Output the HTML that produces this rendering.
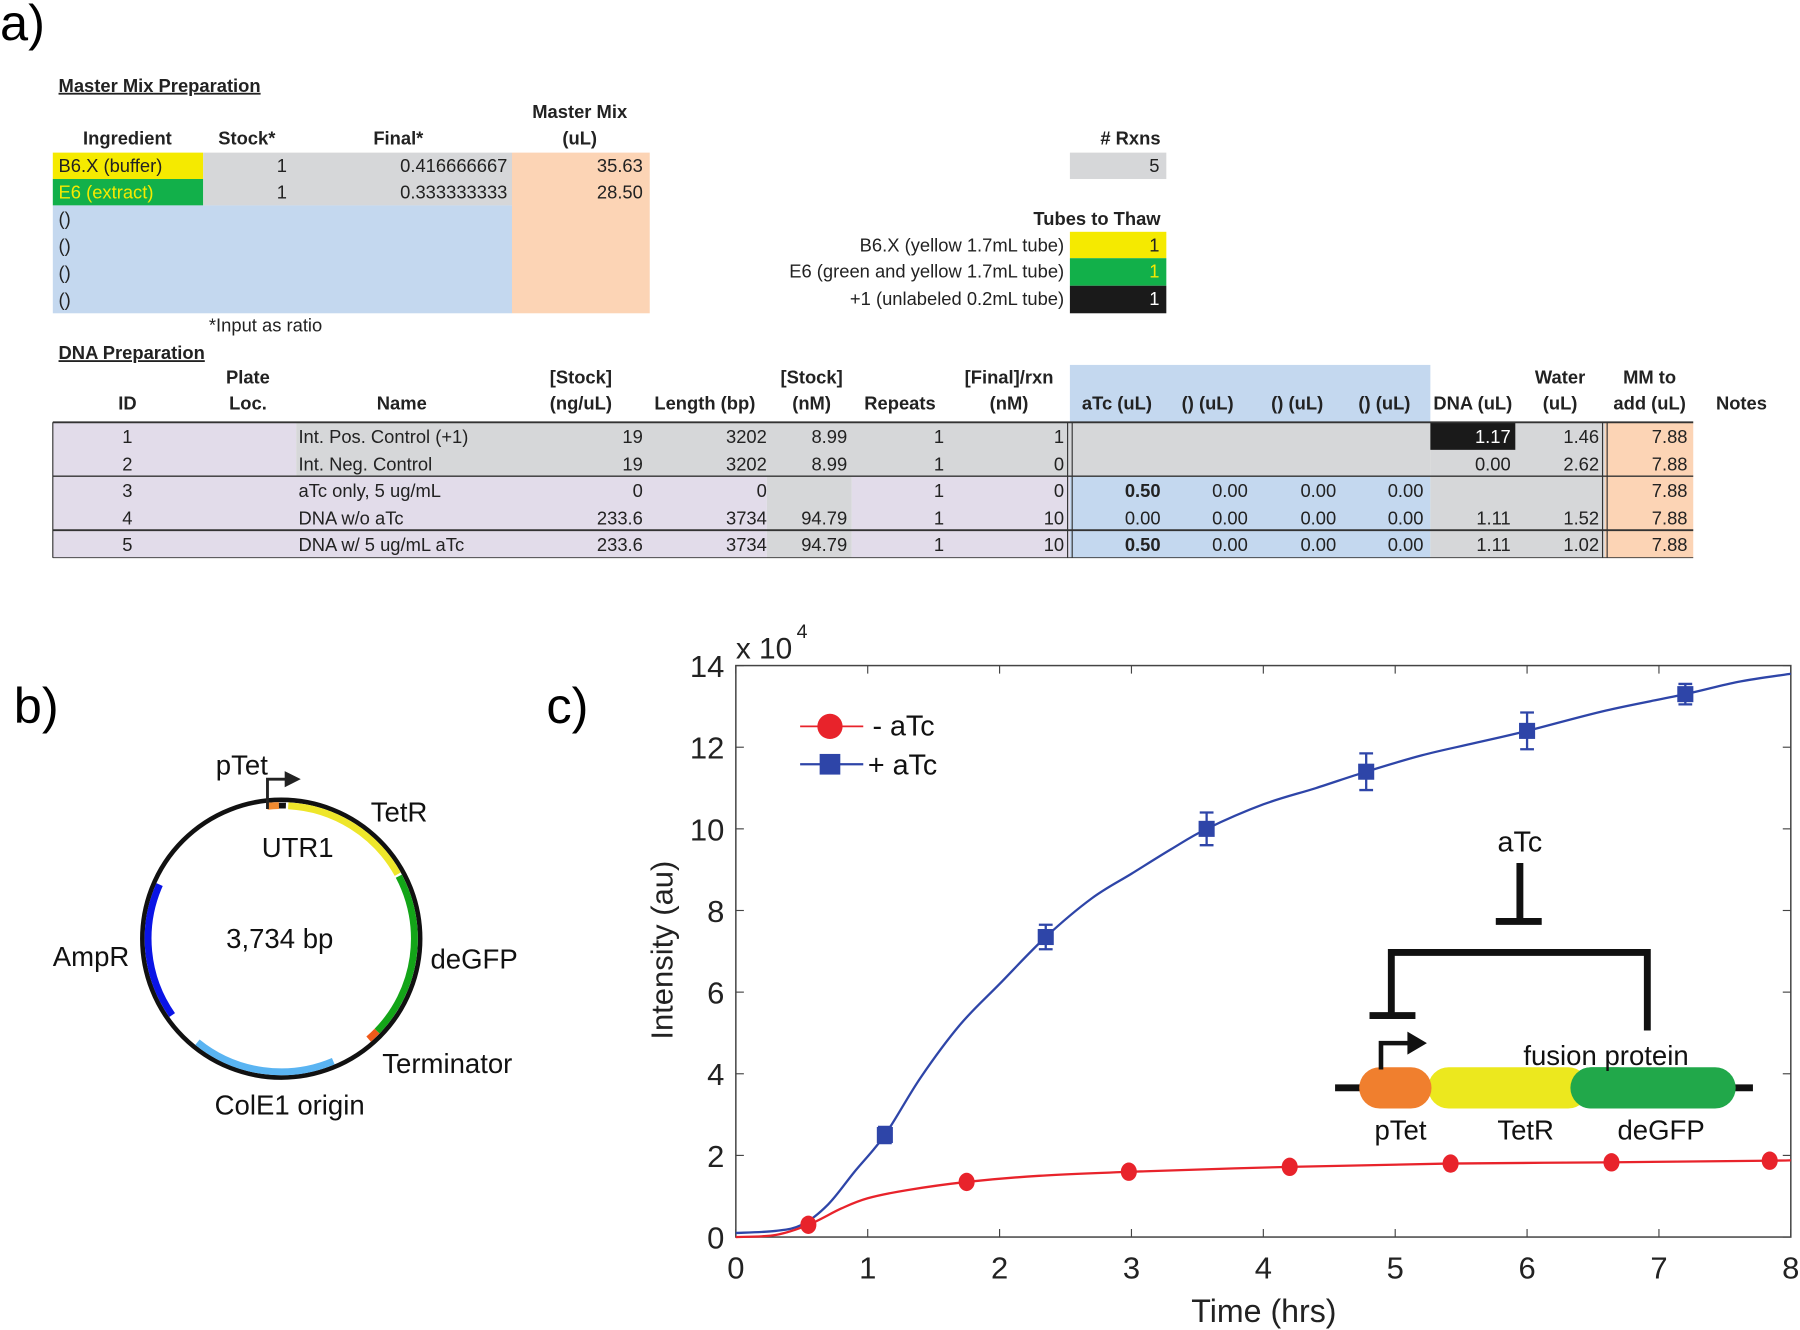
<!DOCTYPE html>
<html><head><meta charset="utf-8"><style>
html,body{margin:0;padding:0;background:#fff;width:1800px;height:1330px;overflow:hidden}
svg{display:block}
text{font-family:"Liberation Sans",sans-serif}
.t{font-size:16px}
</style></head><body>
<svg id="s" width="1800" height="1330" viewBox="0 0 1568 1159" preserveAspectRatio="none" xmlns="http://www.w3.org/2000/svg">
<text x="0" y="35" font-size="44">a)</text>
<text x="12" y="630" font-size="44">b)</text>
<text x="476" y="630" font-size="44">c)</text>
<g id="tbl"></g>
<g id="plasmid"></g>
<g id="chart"></g>
</svg>
<script>
const NS="http://www.w3.org/2000/svg";
function mk(parent,tag,attrs,txt){const e=document.createElementNS(NS,tag);for(const k in attrs)e.setAttribute(k,attrs[k]);if(txt!==undefined)e.textContent=txt;parent.appendChild(e);return e;}
const T=document.getElementById('tbl');
function rect(x,y,w,h,f,name){const r=mk(T,'rect',{x:x,y:y,width:w,height:h,fill:f});


return r;}
function txt(x,y,s,anchor,name,extra){const t=mk(T,'text',Object.assign({x:x,y:y,'text-anchor':anchor,'class':'t',fill:'#222'},extra||{}),s);


return t;}
// Master mix
rect(46,133,131,23,'#f5ea00','buffer-cell');
rect(46,156,131,23,'#12b04a','extract-cell');
rect(177,133,269,46,'#d6d7d9','stock-final-cells');
rect(46,179,400,94,'#c4d8ef','empty-ingredient-cells');
rect(446,133,120,140,'#fcd4b5','master-mix-cells');
txt(51,80,'Master Mix Preparation','start','master-mix-heading',{'text-decoration':'underline','font-weight':'bold'});
txt(505,103,'Master Mix','middle','mm-header',{'font-weight':'bold'});
txt(505,126,'(uL)','middle','mm-header-unit',{'font-weight':'bold'});
txt(111,126,'Ingredient','middle','ingredient-header',{'font-weight':'bold'});
txt(215,126,'Stock*','middle','stock-header',{'font-weight':'bold'});
txt(347,126,'Final*','middle','final-header',{'font-weight':'bold'});
txt(51,150,'B6.X (buffer)','start','buffer-label');
txt(51,173,'E6 (extract)','start','extract-label',{fill:'#f5ea00'});
txt(250,150,'1','end','stock-buffer');txt(250,173,'1','end','stock-extract');
txt(442,150,'0.416666667','end','final-buffer');txt(442,173,'0.333333333','end','final-extract');
txt(560,150,'35.63','end','mm-buffer');txt(560,173,'28.50','end','mm-extract');
for(let i=0;i<4;i++){txt(51,196+i*23.5,'()','start','empty-ingredient');}
txt(182,289,'*Input as ratio','start','ratio-note',{'font-size':'11'});
rect(932,133,84,23,'#d6d7d9','rxns-cell');
txt(1011,126,'# Rxns','end','rxns-header',{'font-weight':'bold'});
txt(1010,150,'5','end','rxns-value');
txt(1011,196,'Tubes to Thaw','end','tubes-header',{'font-weight':'bold'});
rect(932,202,84,23,'#f5ea00','tube-b6x');rect(932,225,84,24,'#12b04a','tube-e6');rect(932,249,84,24,'#1a1a1a','tube-plus1');
txt(927,219,'B6.X (yellow 1.7mL tube)','end','tube-b6x-label');
txt(927,242,'E6 (green and yellow 1.7mL tube)','end','tube-e6-label');
txt(927,266,'+1 (unlabeled 0.2mL tube)','end','tube-plus1-label');
txt(1010,219,'1','end','tube-b6x-val');txt(1010,242,'1','end','tube-e6-val',{fill:'#f5ea00'});txt(1010,266,'1','end','tube-plus1-val',{fill:'#fff'});
// DNA prep
txt(51,313,'DNA Preparation','start','dna-heading',{'text-decoration':'underline','font-weight':'bold'});
rect(932,318,314,50,'#c4d8ef','atc-header-bg');
const hdr=[[111,'','ID'],[216,'Plate','Loc.'],[350,'','Name'],[506,'[Stock]','(ng/uL)'],[614,'','Length (bp)'],[707,'[Stock]','(nM)'],[784,'','Repeats'],[879,'[Final]/rxn','(nM)'],[973,'','aTc (uL)'],[1052,'','() (uL)'],[1130,'','() (uL)'],[1206,'','() (uL)'],[1283,'','DNA (uL)'],[1359,'Water','(uL)'],[1437,'MM to','add (uL)'],[1517,'','Notes']];
hdr.forEach(h=>{if(h[1])txt(h[0],334,h[1],'middle','column-header',{'font-weight':'bold'});txt(h[0],357,h[2],'middle','column-header',{'font-weight':'bold'});});
const ry=[368,392,415,439,462,486];
rect(46,368,212,47,'#e2dcea','id-cells-top');
rect(258,368,988,47,'#d6d7d9','control-rows-bg');
rect(1246,368,152,47,'#d6d7d9','dna-water-top');
rect(1246,368,74,24,'#1a1a1a','dna-pos-cell');
rect(46,415,622,71,'#e2dcea','sample-rows-bg');
rect(668,415,74,71,'#d6d7d9','stock-nm-cells');
rect(742,415,190,71,'#e2dcea','repeats-cells');
rect(932,415,314,71,'#c4d8ef','atc-cells');
rect(1246,415,152,71,'#d6d7d9','dna-water-bottom');
rect(1398,368,77,118,'#fcd4b5','mm-add-cells');
const rows=[
['1','Int. Pos. Control (+1)','19','3202','8.99','1','1','','','','','1.17','1.46','7.88'],
['2','Int. Neg. Control','19','3202','8.99','1','0','','','','','0.00','2.62','7.88'],
['3','aTc only, 5 ug/mL','0','0','','1','0','0.50','0.00','0.00','0.00','','','7.88'],
['4','DNA w/o aTc','233.6','3734','94.79','1','10','0.00','0.00','0.00','0.00','1.11','1.52','7.88'],
['5','DNA w/ 5 ug/mL aTc','233.6','3734','94.79','1','10','0.50','0.00','0.00','0.00','1.11','1.02','7.88']];
const rx=[560,668,738,null,927,1011,1087,1164,1240,1316,1393,1470];
rows.forEach((r,i)=>{const y=ry[i]+18;
txt(111,y,r[0],'middle','row-id');txt(260,y,r[1],'start','row-name');
[r[2],r[3],r[4]].forEach((v,j)=>txt(rx[j],y,v,'end','row-value'));
txt(818,y,r[5],'middle','row-repeats');
for(let j=6;j<14;j++){const ex=(j===7&&r[j]==='0.50')?{'font-weight':'bold'}:(j===11&&i===0?{fill:'#fff'}:{});txt(rx[j-2],y,r[j],'end','row-value',ex);}
});
[[368,1.6],[415,1.2],[462,1.6],[486,0.8]].forEach(l=>{const e=mk(T,'line',{x1:46,x2:1475,y1:l[0],y2:l[0],stroke:'#333','stroke-width':l[1]});

});
[46,930,934,1396,1400].forEach(x=>{const e=mk(T,'line',{x1:x,x2:x,y1:368,y2:486,stroke:'#333','stroke-width':1});

});

// Plasmid
const P=document.getElementById('plasmid');const cx=245,cy=818,R=121;
function pt(a,r){const t=a*Math.PI/180;return [cx+r*Math.sin(t),cy-r*Math.cos(t)];}
function arc(a1,a2,r,col,w,name){const p1=pt(a1,r),p2=pt(a2,r);const e=mk(P,'path',{d:`M${p1[0]},${p1[1]} A${r},${r} 0 ${(a2-a1)>180?1:0} 1 ${p2[0]},${p2[1]}`,fill:'none',stroke:col,'stroke-width':w});

}
const ring=mk(P,'circle',{cx:cx,cy:cy,r:R,fill:'none',stroke:'#111','stroke-width':4});


arc(3,61,116,'#eee62a',6,'tetr-arc');arc(62,134,116,'#13a518',6,'degfp-arc');arc(134,139,116,'#f05a1a',6,'terminator-arc');
arc(157,219,116,'#5ab4f2',6,'cole1-arc');arc(235,294,116,'#0a14e6',6,'ampr-arc');arc(-6,-1,116,'#f08a30',6,'ptet-arc');arc(-1,2,116,'#111',5,'utr1-arc');
const arr=mk(P,'path',{d:'M233,705 V679 H250',fill:'none',stroke:'#222','stroke-width':2.5});


const ah=mk(P,'path',{d:'M248,672 L262,679 L248,686 Z',fill:'#222'});


[['pTet',188,675],['TetR',323,716],['UTR1',228,747],['3,734 bp',197,826],['AmpR',46,842],['deGFP',375,844],['Terminator',333,935],['ColE1 origin',187,971]].forEach(l=>{const e=mk(P,'text',{x:l[1],y:l[2],'font-size':24,fill:'#111'},l[0]);

});

// Chart
const C=document.getElementById('chart');
const xTicks=[0,1,2,3,4,5,6,7,8];
const yTicks=[0,2,4,6,8,10,12,14];
const blueT=[0,0.3,0.5,0.7,0.9,1.13,1.4,1.7,2.0,2.35,2.7,3.0,3.3,3.57,4.0,4.4,4.78,5.2,5.6,6.0,6.6,7.2,7.6,8.0];
const blueV=[0.1,0.15,0.3,0.8,1.6,2.5,3.9,5.2,6.2,7.35,8.3,8.9,9.5,10.0,10.6,11.0,11.4,11.8,12.1,12.4,12.9,13.3,13.6,13.8];
const redT=[0,0.3,0.55,0.8,1.0,1.3,1.75,2.3,3.0,4.2,5.4,6.6,7.8,8.0];
const redV=[0,0.05,0.3,0.7,0.95,1.15,1.35,1.5,1.6,1.72,1.8,1.83,1.87,1.88];
const blueMT=[1.13,2.35,3.57,4.78,6.0,7.2];
const blueMV=[2.5,7.35,10.0,11.4,12.4,13.3];
const blueErr=[0.2,0.3,0.4,0.45,0.45,0.25];
const redMT=[0.55,1.75,2.98,4.2,5.42,6.64,7.84];
const redMV=[0.3,1.35,1.6,1.72,1.8,1.83,1.87];
const X0=641,X1=1560,Y0=1078,Y1=580;
const sx=v=>X0+(X1-X0)*v/8, sy=v=>Y0-(Y0-Y1)*v/14;
function smooth(ts,vs){const p=ts.map((t,i)=>[sx(t),sy(vs[i])]);let d=`M${p[0][0]},${p[0][1]}`;
for(let i=0;i<p.length-1;i++){const p0=p[i-1]||p[i],p1=p[i],p2=p[i+1],p3=p[i+2]||p2;
d+=` C${p1[0]+(p2[0]-p0[0])/6},${p1[1]+(p2[1]-p0[1])/6} ${p2[0]-(p3[0]-p1[0])/6},${p2[1]-(p3[1]-p1[1])/6} ${p2[0]},${p2[1]}`;}return d;}
const frame=mk(C,'rect',{x:X0,y:Y1,width:X1-X0,height:Y0-Y1,fill:'none',stroke:'#444','stroke-width':1.3});


xTicks.forEach(v=>{const x=sx(v);mk(C,'line',{x1:x,x2:x,y1:Y0,y2:Y0-7,stroke:'#444'});mk(C,'line',{x1:x,x2:x,y1:Y1,y2:Y1+7,stroke:'#444'});
const t=mk(C,'text',{x:x,y:Y0+36,'text-anchor':'middle','font-size':27,fill:'#222'},String(v));

});
yTicks.forEach(v=>{const y=sy(v);mk(C,'line',{x1:X0,x2:X0+7,y1:y,y2:y,stroke:'#444'});mk(C,'line',{x1:X1,x2:X1-7,y1:y,y2:y,stroke:'#444'});
const t=mk(C,'text',{x:X0-10,y:y+10,'text-anchor':'end','font-size':27,fill:'#222'},String(v));

});
const xm=mk(C,'text',{x:641,y:574,'font-size':26,fill:'#222'},'x 10');


const xe=mk(C,'text',{x:694,y:556,'font-size':17,fill:'#222'},'4');


const yt=mk(C,'text',{x:0,y:0,'font-size':27,fill:'#222','text-anchor':'middle',transform:'translate(586,828) rotate(-90)'},'Intensity (au)');


const xt=mk(C,'text',{x:1101,y:1152,'font-size':28,fill:'#222','text-anchor':'middle'},'Time (hrs)');


const G=mk(C,'g',{});


mk(G,'text',{x:1324,y:742,'font-size':25,'text-anchor':'middle',fill:'#111'},'aTc');
mk(G,'path',{d:'M1324,752 V803 M1303,803 H1343 M1212,885 V830 H1435 V898 M1193,885 H1233',stroke:'#111','stroke-width':6,fill:'none'});
mk(G,'line',{x1:1163,x2:1527,y1:948,y2:948,stroke:'#111','stroke-width':6});
mk(G,'rect',{x:1368,y:930,width:144,height:36,rx:18,fill:'#21a84a'});
mk(G,'rect',{x:1244,y:930,width:140,height:36,rx:18,fill:'#ece81e'});
mk(G,'rect',{x:1184,y:930,width:63,height:36,rx:18,fill:'#f07f2e'});
mk(G,'rect',{x:1368,y:930,width:60,height:36,rx:18,fill:'#21a84a'});
mk(G,'path',{d:'M1203,932 V909 H1228',stroke:'#111','stroke-width':4,fill:'none'});
mk(G,'path',{d:'M1226,899 L1243,909 L1226,919 Z',fill:'#111'});
mk(G,'text',{x:1399,y:928,'font-size':24,'text-anchor':'middle',fill:'#111'},'fusion protein');
[['pTet',1220],['TetR',1329],['deGFP',1447]].forEach(l=>mk(G,'text',{x:l[1],y:993,'font-size':24,'text-anchor':'middle',fill:'#111'},l[0]));
const bl=mk(C,'path',{d:smooth(blueT,blueV),fill:'none',stroke:'#2e45a8','stroke-width':2});


const rl=mk(C,'path',{d:smooth(redT,redV),fill:'none',stroke:'#e8232b','stroke-width':2});


blueMT.forEach((t,i)=>{const x=sx(t),y=sy(blueMV[i]),y1=sy(blueMV[i]+blueErr[i]),y2=sy(blueMV[i]-blueErr[i]);
const eb=mk(C,'path',{d:`M${x},${y1} V${y2} M${x-6},${y1} H${x+6} M${x-6},${y2} H${x+6}`,stroke:'#2e45a8','stroke-width':2,fill:'none'});


const m=mk(C,'rect',{x:x-7,y:y-7,width:14,height:14,fill:'#2e45a8'});

});
redMT.forEach((t,i)=>{const m=mk(C,'ellipse',{cx:sx(t),cy:sy(redMV[i]),rx:7,ry:8,fill:'#e8232b'});

});
const L=mk(C,'g',{});


mk(L,'line',{x1:697,x2:752,y1:633,y2:633,stroke:'#e8232b','stroke-width':1.5});
mk(L,'ellipse',{cx:723,cy:633,rx:11,ry:11,fill:'#e8232b'});
mk(L,'text',{x:760,y:641,'font-size':25,fill:'#111'},'- aTc');
mk(L,'line',{x1:697,x2:752,y1:666,y2:666,stroke:'#2e45a8','stroke-width':2});
mk(L,'rect',{x:714,y:657,width:18,height:18,fill:'#2e45a8'});
mk(L,'text',{x:756,y:675,'font-size':25,fill:'#111'},'+ aTc');
</script>
</body></html>
